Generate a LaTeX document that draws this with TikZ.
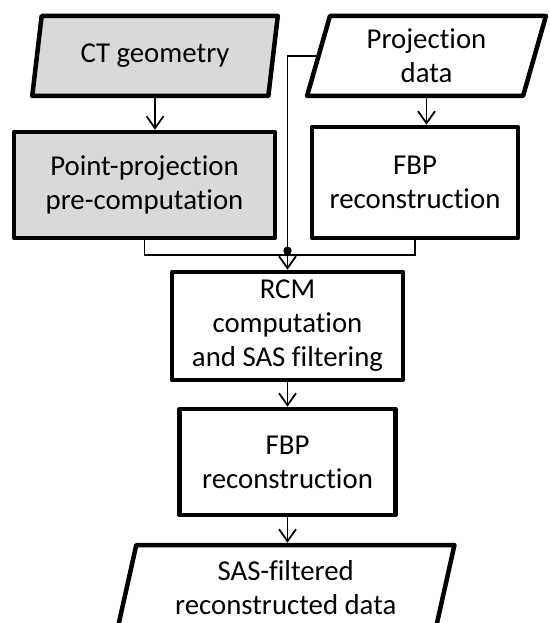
\documentclass[tikz,border=0pt]{standalone}
\usepackage{fontspec}
\setmainfont[RawFeature=-liga]{Carlito}
\usetikzlibrary{shapes.geometric,arrows.meta}
\definecolor{boxgray}{HTML}{D9D9D9}
\begin{document}
\begin{tikzpicture}[x=1bp,y=-1bp,
  box/.style={draw, line width=4.5bp, line join=round, align=center, inner sep=0pt,
    font=\fontsize{28.8bp}{34bp}\selectfont},
  proc/.style={box, rectangle},
  io/.style={box, trapezium, trapezium left angle=75.3, trapezium right angle=104.7,
    trapezium stretches=true},
  shaded/.style={fill=boxgray},
  link/.style={line width=1.8bp},
  arr/.style={link, -{Straight Barb[length=12bp,width=17bp,line width=1.8bp]}}
]
\useasboundingbox (0,0) rectangle (550,623);

% inputs
\node[io, shaded, minimum width=246bp, minimum height=80bp] (ct) at (155,56) {CT geometry};
\node[io, minimum width=239bp, minimum height=80bp] (pd) at (426.5,56) {Projection\\data};

% first stage
\node[proc, shaded, minimum width=261bp, minimum height=106bp] (pp) at (144.5,185) {Point-projection\\pre-computation};
\node[proc, minimum width=206bp, minimum height=111bp] (fbpa) at (415,182.5) {FBP\\reconstruction};

% second stage
\node[proc, minimum width=231bp, minimum height=108bp] (rcm) at (287.5,326) {RCM\\computation\\and SAS filtering};
\node[proc, minimum width=216bp, minimum height=106bp] (fbpb) at (287.5,462) {FBP\\reconstruction};

% output
\node[io, minimum width=338bp, minimum height=86bp] (sas) at (285.75,588) {SAS-filtered\\reconstructed data};

% connectors
\draw[arr] (ct.south) -- (ct.south |- pp.north);
\draw[arr] (pd.south) -- (pd.south |- fbpa.north);
\draw[link] (pp.south) -- ++(0,15) -| (fbpa.south);
\draw[arr] (pd.west) -| (rcm.north);
\coordinate (joint) at ([yshift=19bp]rcm.north);
\fill (joint) circle (4.2bp);
\draw[arr] (rcm.south) -- (fbpb.north);
\draw[arr] (fbpb.south) -- (fbpb.south |- sas.north);
\end{tikzpicture}
\end{document}
